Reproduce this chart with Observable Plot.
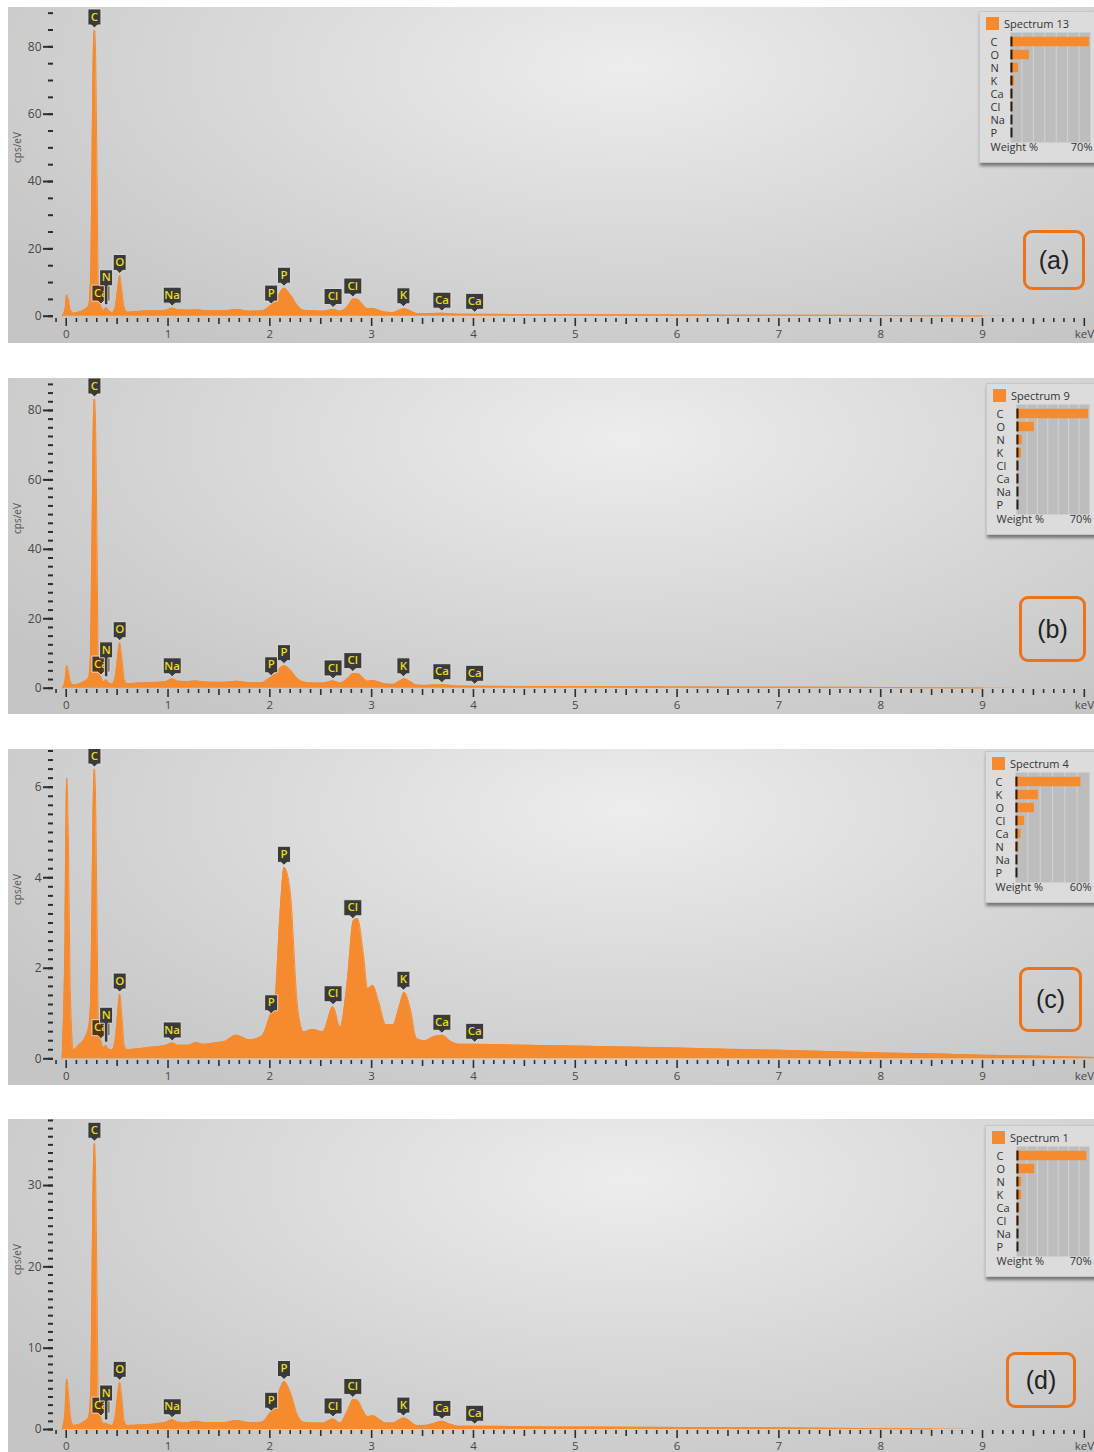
<!DOCTYPE html>
<html><head><meta charset="utf-8">
<script src="https://cdn.jsdelivr.net/npm/d3@7"></script>
<script src="https://cdn.jsdelivr.net/npm/@observablehq/plot@0.6"></script>
<style>
html,body{margin:0;padding:0;background:#fff;}
body{position:relative;width:1094px;height:1452px;overflow:hidden;font-family:'Open Sans',sans-serif;}
.panel{position:absolute;left:8px;width:1086px;height:336px;overflow:hidden;
 background: radial-gradient(ellipse 70% 100% at 57% 18%, #ededed 0%, #dbdbdb 45%, #c5c5c5 100%);}
.inset{position:absolute;width:118px;height:150px;background:#dcdcdc;border:1px solid #c6c6c6;box-shadow:1px 3px 3px rgba(0,0,0,0.45);}
.inset .hdr{position:absolute;left:6px;top:4px;font-size:11px;color:#333;display:flex;align-items:center;white-space:nowrap;}
.inset .sq{width:13px;height:13px;background:#f58a2f;margin-right:5px;}
.inset svg{position:absolute;left:0;top:0;}
.tag{position:absolute;border:3px solid #ea741c;border-radius:9px;font-family:Arial,'Liberation Sans',sans-serif;font-size:25px;color:#222;display:flex;align-items:center;justify-content:center;box-sizing:border-box;}
</style></head><body>
<script>
// ---------- data ----------
const energy = [-0.04, -0.01, 0.005, 0.02, 0.04, 0.07, 0.12, 0.18, 0.22, 0.24, 0.255, 0.268, 0.277, 0.286, 0.30, 0.315, 0.34, 0.37, 0.39, 0.41, 0.45, 0.48, 0.505, 0.525, 0.545, 0.57, 0.6, 0.7, 0.8, 0.9, 0.98, 1.04, 1.1, 1.2, 1.27, 1.35, 1.45, 1.55, 1.67, 1.8, 1.92, 2.0, 2.05, 2.1, 2.14, 2.2, 2.27, 2.33, 2.42, 2.52, 2.62, 2.69, 2.76, 2.82, 2.86, 2.92, 2.96, 3.01, 3.07, 3.14, 3.21, 3.27, 3.32, 3.38, 3.44, 3.52, 3.6, 3.69, 3.78, 3.86, 4.0, 4.5, 5.0, 5.5, 6.0, 6.5, 7.0, 7.5, 8.0, 8.5, 9.0, 9.5, 10.1];

const countsA = [0, 2.5, 6.4, 5.0, 2.0, 0.9, 1.2, 2.0, 3.0, 12, 50, 81, 85, 81, 50, 10, 3.0, 1.8, 2.5, 2.0, 1.0, 2.5, 8, 12.1, 8, 2.5, 1.2, 1.4, 1.6, 1.6, 1.8, 2.4, 1.9, 1.8, 1.9, 1.7, 1.6, 1.6, 2.0, 1.5, 1.6, 3.0, 4.5, 7.0, 8.3, 6.5, 3.2, 1.8, 1.6, 1.5, 2.0, 1.5, 2.8, 5.1, 5.0, 3.2, 2.2, 2.3, 1.8, 1.2, 1.1, 1.8, 2.2, 1.6, 0.8, 0.7, 0.8, 0.9, 0.7, 0.6, 0.55, 0.5, 0.45, 0.4, 0.35, 0.3, 0.3, 0.25, 0.2, 0.1, 0.05, 0, 0];

const countsB = [0, 2.5, 6.5, 5.0, 2.0, 0.9, 1.2, 2.0, 3.0, 11, 48, 79, 83.3, 79, 48, 9, 3.2, 1.8, 2.4, 1.8, 1.2, 3.0, 9, 13.1, 9, 2.5, 1.3, 1.5, 1.6, 1.7, 1.9, 2.7, 2.0, 1.9, 2.1, 1.8, 1.7, 1.7, 2.0, 1.6, 1.6, 3.0, 4.0, 5.8, 6.5, 5.3, 2.8, 1.8, 1.5, 1.5, 2.1, 1.5, 2.7, 4.2, 4.2, 2.9, 2.0, 2.2, 1.8, 1.2, 1.1, 2.0, 2.7, 1.9, 0.9, 0.8, 0.9, 1.0, 0.8, 0.6, 0.55, 0.5, 0.45, 0.4, 0.35, 0.3, 0.3, 0.25, 0.2, 0.1, 0.05, 0, 0];

const countsC = [0, 3.0, 6.2, 5.0, 1.5, 0.2, 0.3, 0.45, 0.7, 1.3, 3.8, 6.0, 6.4, 6.0, 3.6, 0.9, 0.4, 0.25, 0.3, 0.22, 0.2, 0.4, 1.0, 1.43, 1.0, 0.3, 0.2, 0.22, 0.25, 0.27, 0.3, 0.35, 0.3, 0.3, 0.36, 0.32, 0.35, 0.38, 0.52, 0.42, 0.5, 0.95, 1.3, 3.2, 4.23, 3.7, 1.2, 0.6, 0.65, 0.6, 1.15, 0.7, 1.7, 3.05, 3.1, 2.3, 1.55, 1.62, 1.25, 0.75, 0.75, 1.15, 1.47, 1.1, 0.45, 0.4, 0.48, 0.52, 0.38, 0.32, 0.32, 0.3, 0.28, 0.26, 0.24, 0.21, 0.19, 0.16, 0.13, 0.11, 0.08, 0.06, 0.03];

const countsD = [0, 2.5, 6.2, 4.8, 1.8, 0.5, 0.6, 1.0, 1.5, 4.5, 20, 33, 35.2, 33, 20, 4, 1.4, 0.7, 0.8, 0.6, 0.5, 1.5, 4.2, 5.8, 4.0, 1.0, 0.5, 0.55, 0.6, 0.75, 0.9, 1.2, 0.9, 0.85, 1.0, 0.85, 0.85, 0.85, 1.1, 0.85, 0.9, 2.0, 2.8, 5.0, 5.9, 4.6, 1.8, 0.9, 0.8, 0.8, 1.3, 0.8, 2.2, 3.7, 3.6, 2.2, 1.6, 1.7, 1.3, 0.8, 0.8, 1.2, 1.4, 1.0, 0.5, 0.5, 0.7, 1.0, 0.6, 0.4, 0.4, 0.35, 0.3, 0.28, 0.25, 0.22, 0.2, 0.15, 0.1, 0.05, 0, 0, 0];

const peakElements = ["C", "Ca", "N", "O", "Na", "P", "P", "Cl", "Cl", "K", "Ca", "Ca"];
const peakEnergies = [0.277, 0.341, 0.392, 0.525, 1.041, 2.013, 2.139, 2.621, 2.815, 3.312, 3.69, 4.012];

const spectrumNames = ["Spectrum 13", "Spectrum 9", "Spectrum 4", "Spectrum 1"];
const panelTags = ["(a)", "(b)", "(c)", "(d)"];
const quantElementsA = ["C", "O", "N", "K", "Ca", "Cl", "Na", "P"];
const quantWeightsA = [69, 16.5, 7, 3.5, 0.8, 0.6, 0.3, 0.2];
const quantElementsB = ["C", "O", "N", "K", "Cl", "Ca", "Na", "P"];
const quantWeightsB = [69, 17, 5.5, 4.8, 0.8, 0.6, 0.4, 0.2];
const quantElementsC = ["C", "K", "O", "Cl", "Ca", "N", "Na", "P"];
const quantWeightsC = [53, 18.6, 15.4, 7.3, 4.4, 2.8, 0.4, 0.2];
const quantElementsD = ["C", "O", "N", "K", "Ca", "Cl", "Na", "P"];
const quantWeightsD = [67.4, 17.5, 5, 4.8, 3.2, 2.4, 0.4, 0.2];
const quantMax = [70, 70, 60, 70];

// ---------- styling / layout ----------
const ORANGE = "#f58a2f", BOX = "#3a3a3a", BROWN = "#553519", YELLOW = "#e8dc22";
const panels = [
  {counts: countsA, top: 7,    y: [-0.68, 91.68], major: 20, minor: 5,
   inset: {left: 979, top: 11, gl: 30, gw: 80, lab: 10}, tag: {left: 1023, top: 230, w: 62, h: 60},
   elements: quantElementsA, weights: quantWeightsA},
  {counts: countsB, top: 378,  y: [-0.375, 89.2], major: 20, minor: 2.5,
   inset: {left: 986, top: 383, gl: 29, gw: 73, lab: 9}, tag: {left: 1019, top: 596, w: 67, h: 66},
   elements: quantElementsB, weights: quantWeightsB},
  {counts: countsC, top: 749,  y: [-0.0376, 6.833], major: 2, minor: 0.2,
   inset: {left: 985, top: 751, gl: 29, gw: 74, lab: 9}, tag: {left: 1019, top: 967, w: 63, h: 65},
   elements: quantElementsC, weights: quantWeightsC},
  {counts: countsD, top: 1119, y: [-0.123, 38.12], major: 10, minor: 1,
   inset: {left: 985, top: 1125, gl: 30, gw: 73, lab: 10}, tag: {left: 1006, top: 1352, w: 70, h: 56},
   elements: quantElementsD, weights: quantWeightsD}
];

function labelSymbol(w, raised) {
  return {draw(ctx) {
    const hw = w / 2;
    const b = raised ? -22 : -5, t = b - 16;
    ctx.moveTo(-hw, t); ctx.lineTo(hw, t); ctx.lineTo(hw, b);
    if (raised) { ctx.lineTo(1.8, b); ctx.lineTo(1.8, -3); ctx.lineTo(-1.8, -3); ctx.lineTo(-1.8, b); }
    else { ctx.lineTo(3, b); ctx.lineTo(0, -2); ctx.lineTo(-3, b); }
    ctx.lineTo(-hw, b); ctx.closePath();
  }};
}

const svgStyle = "background: transparent; font-family: 'Open Sans', sans-serif; font-size: 11px; overflow: visible;";

panels.forEach((p, k) => {
  const data = energy.map((e, i) => ({e, c: p.counts[i]}));
  const lastE = d3.max(data.filter(d => d.c > 0), d => d.e);
  const valueAt = e => data[d3.minIndex(data, d => Math.abs(d.e - e))].c;
  const labels = peakElements.map((el, i) => ({el, e: peakEnergies[i], c: valueAt(peakEnergies[i])}));
  labels.forEach((d, i) => { d.raised = i > 0 && !labels[i - 1].raised && d.e - labels[i - 1].e < 0.06; });

  const labelMarks = [];
  for (const raised of [false, true]) {
    for (const n of [1, 2]) {
      const sub = labels.filter(d => d.raised === raised && d.el.length === n);
      if (!sub.length) continue;
      labelMarks.push(Plot.dot(sub, {x: "e", y: "c", r: 5, symbol: labelSymbol(n === 1 ? 13 : 18, raised),
        fill: d => (d.el === "Ca" && d.e < 1 ? BROWN : BOX), stroke: "#e2e2e2", strokeWidth: 0.9}));
    }
    labelMarks.push(Plot.text(labels.filter(d => d.raised === raised),
      {x: "e", y: "c", text: "el", dy: raised ? -30 : -13, fill: YELLOW, fontSize: 11.5, fontWeight: 600}));
  }

  const minorX = d3.range(-1, 101).filter(i => i % 5 !== 0).map(i => i / 10);
  const halfX = d3.range(0, 10).map(i => i + 0.5);
  const majorX = d3.range(0, 11);
  const nMinor = Math.floor(p.y[1] / p.minor + 1e-9);
  const minorY = d3.range(0, nMinor + 1).map(i => +(i * p.minor).toFixed(3));
  const majorY = d3.range(0, Math.floor(p.y[1] / p.major) + 1).map(i => i * p.major);

  const chart = Plot.plot({
    width: 1086, height: 336,
    marginLeft: 45, marginRight: 0, marginTop: 0, marginBottom: 25,
    x: {domain: [-0.125, 10.1]},
    y: {domain: p.y},
    color: {type: "identity"},
    style: svgStyle,
    marks: [
      Plot.areaY(data, {x: "e", y: "c", fill: ORANGE, curve: "monotone-x"}),
      Plot.lineY(data.filter(d => d.e <= lastE), {x: "e", y: "c", stroke: ORANGE, strokeWidth: 1, curve: "monotone-x"}),
      Plot.axisY({ticks: minorY, tickSize: 5, tickFormat: () => "", label: null, stroke: "#2d2d2d", strokeWidth: 2}),
      Plot.axisY({ticks: majorY, tickSize: 10, tickPadding: 2, label: null, stroke: "#2d2d2d", strokeWidth: 2,
        fill: "#484848", fontSize: 12, tickFormat: d => String(d)}),
      Plot.axisX({ticks: minorX, tickSize: 4, tickFormat: () => "", label: null, stroke: "#2d2d2d", strokeWidth: 1.6}),
      Plot.axisX({ticks: halfX, tickSize: 6, tickFormat: () => "", label: null, stroke: "#2d2d2d", strokeWidth: 1.6}),
      Plot.axisX({ticks: majorX, tickSize: 8, tickPadding: 3, label: null, stroke: "#2d2d2d", strokeWidth: 1.6,
        fill: "#484848", fontSize: 11.5, tickFormat: d => (d === 10 ? "keV" : String(d))}),
      Plot.text(["cps/eV"], {frameAnchor: "left", rotate: -90, dx: -36, fill: "#555", fontSize: 10}),
      ...labelMarks
    ]
  });
  const panel = document.createElement("div");
  panel.className = "panel";
  panel.style.top = p.top + "px";
  panel.appendChild(chart);
  document.body.appendChild(panel);

  // quantification inset
  const q = p.inset;
  const rows = p.elements.map((el, i) => ({el, w: p.weights[i]}));
  const W = 118, H = 150, max = quantMax[k];
  const inset = Plot.plot({
    width: W, height: H,
    marginTop: 20, marginBottom: 20, marginLeft: q.gl, marginRight: W - q.gl - q.gw,
    x: {domain: [0, max], axis: null},
    y: {domain: p.elements, axis: null, padding: 0},
    style: svgStyle,
    marks: [
      Plot.frame({fill: "#bdbdbd", stroke: null}),
      Plot.gridX({ticks: d3.range(10, max, 10), stroke: "#d4d4d4", strokeOpacity: 1}),
      Plot.barX(rows, {x: "w", y: "el", fill: ORANGE, insetTop: 1.8, insetBottom: 1.8}),
      Plot.tickX(rows, {x: 0, y: "el", dx: 1, stroke: "#1e1e1e", strokeWidth: 2, insetTop: 1.6, insetBottom: 1.6}),
      Plot.text(rows, {y: "el", text: "el", frameAnchor: "left", dx: q.lab - q.gl, textAnchor: "start", fill: "#333", fontSize: 11}),
      Plot.text([`${max}%`], {frameAnchor: "bottom-right", dx: 2, dy: 8, textAnchor: "end", fill: "#333", fontSize: 11}),
      Plot.text(["Weight %"], {frameAnchor: "bottom-left", dx: q.lab - q.gl, dy: 8, textAnchor: "start", fill: "#333", fontSize: 11})
    ]
  });
  const box = document.createElement("div");
  box.className = "inset";
  box.style.left = q.left + "px";
  box.style.top = q.top + "px";
  box.appendChild(inset);
  const hdr = document.createElement("div");
  hdr.className = "hdr";
  hdr.innerHTML = `<div class="sq"></div><span></span>`;
  hdr.querySelector("span").textContent = spectrumNames[k];
  box.appendChild(hdr);
  document.body.appendChild(box);

  // panel tag
  const tag = document.createElement("div");
  tag.className = "tag";
  Object.assign(tag.style, {left: p.tag.left + "px", top: p.tag.top + "px", width: p.tag.w + "px", height: p.tag.h + "px"});
  tag.textContent = panelTags[k];
  document.body.appendChild(tag);
});
</script>
</body></html>
